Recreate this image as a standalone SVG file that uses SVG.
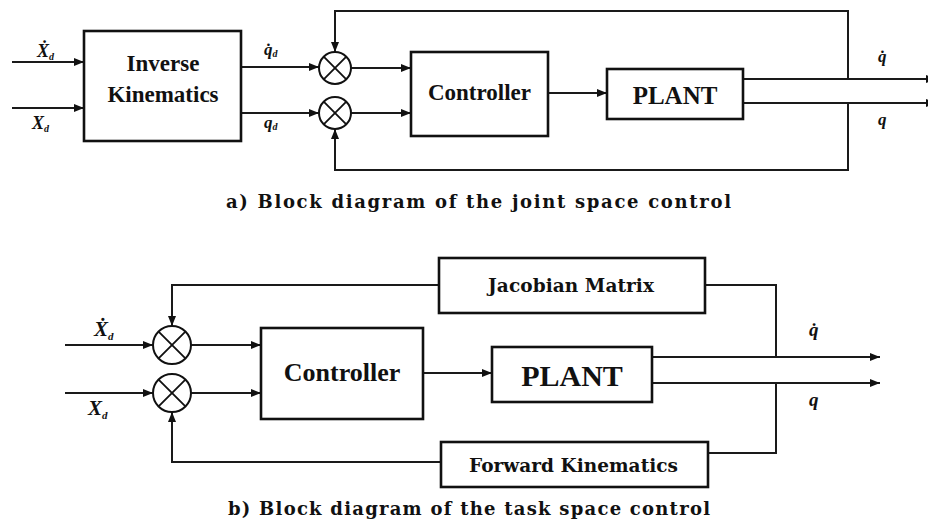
<svg xmlns="http://www.w3.org/2000/svg" width="928" height="525" viewBox="0 0 928 525">
<style>
.bg{fill:#fff}
.box{fill:#fff;stroke:#111;stroke-width:2.6}
.ln{fill:none;stroke:#1a1a1a;stroke-width:2}
.arr{marker-end:url(#ah)}
.sum circle{fill:#fff;stroke:#111;stroke-width:2}
.sum path{fill:none;stroke:#111;stroke-width:1.8}
.t{font-family:"Liberation Serif","Times New Roman",serif;font-weight:bold;fill:#111;text-anchor:middle}
.tw{font-family:"DejaVu Serif",serif;font-weight:bold;fill:#111;text-anchor:middle}
.lab{font-family:"Liberation Serif","DejaVu Serif",serif;font-weight:bold;font-style:italic;fill:#111}
.cap{font-family:"DejaVu Serif",serif;font-weight:bold;fill:#111}
</style>
<defs>
<marker id="ah" markerUnits="userSpaceOnUse" markerWidth="10" markerHeight="8" refX="10" refY="4" orient="auto">
<path d="M0,0 L10,4 L0,8 z" fill="#111"/>
</marker>
</defs>
<rect class="bg" x="0" y="0" width="928" height="525"/>

<g id="connectors">
<path class="ln arr" d="M12,62 H84"/>
<path class="ln arr" d="M12,108 H84"/>
<path class="ln arr" d="M241,67 H319"/>
<path class="ln arr" d="M241,113 H319"/>
<path class="ln arr" d="M351,68 H411"/>
<path class="ln arr" d="M351,113 H411"/>
<path class="ln arr" d="M548,93 H607"/>
<path class="ln arr" d="M743,79 H936"/>
<path class="ln arr" d="M743,103 H936"/>
<path class="ln arr" d="M848,79 V11 H335 V52"/>
<path class="ln arr" d="M848,103 V170 H335 V129"/>
<path class="ln arr" d="M65,345 H153"/>
<path class="ln arr" d="M65,393 H153"/>
<path class="ln arr" d="M191,345 H261"/>
<path class="ln arr" d="M191,393 H261"/>
<path class="ln arr" d="M423,373 H492"/>
<path class="ln arr" d="M652,357 H880"/>
<path class="ln arr" d="M652,383 H880"/>
<path class="ln" d="M776,357 V285 H705"/>
<path class="ln arr" d="M439,285 H172 V326"/>
<path class="ln" d="M776,383 V453 H708"/>
<path class="ln arr" d="M441,462 H172 V412"/>
</g>

<g id="inverse-kinematics">
<rect class="box" x="84" y="31" width="157" height="110"/>
<text class="t" x="163" y="71" font-size="23">Inverse</text>
<text class="t" x="163" y="102" font-size="23">Kinematics</text>
</g>

<g id="sum-a1" class="sum">
<circle cx="335" cy="68" r="16"/>
<path d="M323.7,56.7 L346.3,79.3 M346.3,56.7 L323.7,79.3"/>
</g>
<g id="sum-a2" class="sum">
<circle cx="335" cy="113" r="16"/>
<path d="M323.7,101.7 L346.3,124.3 M346.3,101.7 L323.7,124.3"/>
</g>

<g id="controller-a">
<rect class="box" x="411" y="52" width="137" height="84"/>
<text class="t" x="479.5" y="100" font-size="23">Controller</text>
</g>

<g id="plant-a">
<rect class="box" x="607" y="69" width="136" height="50"/>
<text class="t" x="675" y="104" font-size="25">PLANT</text>
</g>

<g id="labels-a">
<text class="lab" x="37" y="57" font-size="18">Ẋ<tspan font-size="10" dy="3">d</tspan></text>
<text class="lab" x="32" y="129" font-size="18">X<tspan font-size="10" dy="3">d</tspan></text>
<text class="lab" x="264" y="55" font-size="17">q̇<tspan font-size="10" dy="2">d</tspan></text>
<text class="lab" x="264" y="128" font-size="17">q<tspan font-size="10" dy="2">d</tspan></text>
<text class="lab" x="878" y="62" font-size="17">q̇</text>
<text class="lab" x="878" y="125" font-size="17">q</text>
</g>

<g id="caption-a">
<text class="cap" x="226" y="208" font-size="18" textLength="505" lengthAdjust="spacing">a) Block diagram of the joint space control</text>
</g>

<g id="sum-b1" class="sum">
<circle cx="172" cy="345" r="19"/>
<path d="M158.6,331.6 L185.4,358.4 M185.4,331.6 L158.6,358.4"/>
</g>
<g id="sum-b2" class="sum">
<circle cx="172" cy="393" r="19"/>
<path d="M158.6,379.6 L185.4,406.4 M185.4,379.6 L158.6,406.4"/>
</g>

<g id="controller-b">
<rect class="box" x="261" y="328" width="162" height="91"/>
<text class="t" x="342" y="381" font-size="26">Controller</text>
</g>

<g id="plant-b">
<rect class="box" x="492" y="347" width="160" height="55"/>
<text class="t" x="572" y="386" font-size="30">PLANT</text>
</g>

<g id="jacobian-matrix">
<rect class="box" x="439" y="258" width="266" height="55"/>
<text class="tw" x="571" y="292" font-size="18.5" textLength="166" lengthAdjust="spacing">Jacobian Matrix</text>
</g>

<g id="forward-kinematics">
<rect class="box" x="441" y="442" width="267" height="45"/>
<text class="tw" x="573.5" y="472" font-size="18.5" textLength="209" lengthAdjust="spacing">Forward Kinematics</text>
</g>

<g id="labels-b">
<text class="lab" x="94" y="336" font-size="21">Ẋ<tspan font-size="11" dy="4">d</tspan></text>
<text class="lab" x="88" y="415" font-size="21">X<tspan font-size="11" dy="4">d</tspan></text>
<text class="lab" x="809" y="336" font-size="19">q̇</text>
<text class="lab" x="809" y="406" font-size="19">q</text>
</g>

<g id="caption-b">
<text class="cap" x="228" y="515" font-size="18" textLength="482" lengthAdjust="spacing">b) Block diagram of the task space control</text>
</g>
</svg>
